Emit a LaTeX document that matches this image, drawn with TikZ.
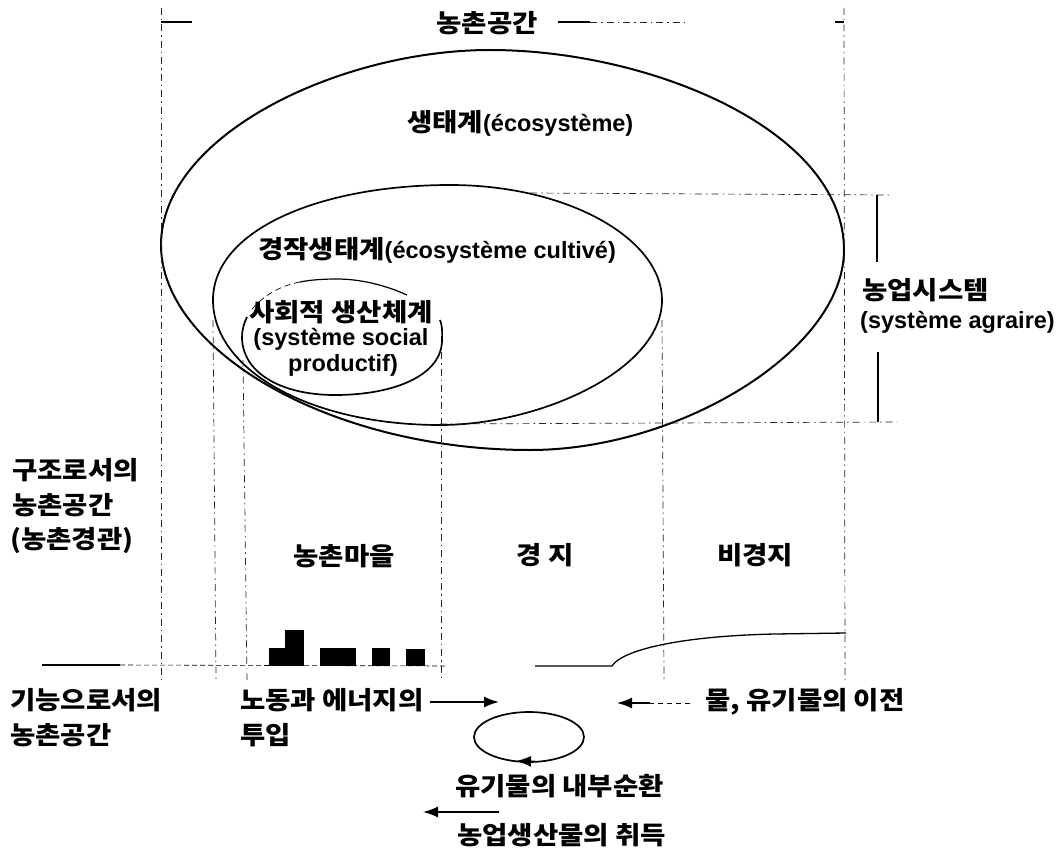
\documentclass[tikz,border=0pt]{standalone}
\usepackage{fontspec}
\setmainfont{Liberation Sans}
\newfontfamily\kofont[Scale=1.064,FakeStretch=1.1]{Noto Sans CJK KR}
\newcommand{\ko}[1]{{\kofont\bfseries #1}}
\usetikzlibrary{arrows.meta}
\tikzset{
  lab/.style={anchor=west,inner sep=0pt,font=\bfseries\fontsize{23.5}{26}\selectfont,text=black},
  labc/.style={lab,anchor=center},
  curve/.style={line width=1.7pt,black},
  guide/.style={line width=0.7pt,black!85,dash pattern=on 7pt off 4pt on 1.5pt off 4pt},
  dimline/.style={line width=1.3pt,black},
  arrowline/.style={line width=1.5pt,black,-{Latex[length=15pt,width=11pt]}},
  house/.style={fill=black,draw=none}
}
\begin{document}
\begin{tikzpicture}[x=1pt,y=-1pt]
\useasboundingbox (0,0) rectangle (1063,848);
\fill[white] (0,0) rectangle (1063,848);

% curves
\draw[curve,line width=2pt] (490,50) .. controls (650,50) and (844,130) .. (844,250)
  .. controls (844,350) and (680,450) .. (530,450)
  .. controls (330,450) and (161,350) .. (161,245)
  .. controls (161,135) and (340,50) .. (490,50) -- cycle;
\draw[curve] (450,185) .. controls (570,185) and (662,240) .. (662,300)
  .. controls (662,370) and (540,425) .. (440,425)
  .. controls (310,425) and (213,370) .. (213,300)
  .. controls (213,230) and (320,185) .. (450,185) -- cycle;
\draw[curve] (440,320) .. controls (443,328) and (442,334) .. (442,340)
  .. controls (442,375) and (395,395) .. (335,395)
  .. controls (280,395) and (242,372) .. (242,337)
  .. controls (242,330) and (244,323) .. (247,317);
\draw[curve,line width=1.2pt] (407,295) .. controls (385,285) and (360,279) .. (337,279)
  .. controls (322,279) and (310,280) .. (300,282);
\draw[line width=.7pt,dash pattern=on 6pt off 4pt] (300,282) .. controls (278,286) and (260,298) .. (250,312);

% guides
\coordinate (vaT) at (161,8);   \coordinate (vaB) at (161,680);
\coordinate (vbT) at (844,8);   \coordinate (vbB) at (845,680);
\coordinate (vcT) at (213,320); \coordinate (vcB) at (216,680);
\coordinate (vdT) at (243,360); \coordinate (vdB) at (247,680);
\coordinate (veT) at (441,352); \coordinate (veB) at (441,680);
\coordinate (vfT) at (662,320); \coordinate (vfB) at (664,680);
\coordinate (haL) at (530,193); \coordinate (haR) at (890,195);
\coordinate (hbL) at (440,424); \coordinate (hbR) at (897,422);
\draw[guide] (vaT) -- (vaB);
\draw[guide] (vbT) -- (vbB);
\draw[guide] (vcT) -- (vcB);
\draw[guide] (vdT) -- (vdB);
\draw[guide] (veT) -- (veB);
\draw[guide] (vfT) -- (vfB);
\draw[guide] (haL) -- (haR);
\draw[guide] (hbL) -- (hbR);

% top dimension line
\coordinate (tl) at (161,22); \coordinate (tl2) at (192,22);
\coordinate (tm) at (558,22); \coordinate (tm2) at (590,22); \coordinate (tm3) at (685,22);
\coordinate (tr) at (835,22); \coordinate (tr2) at (844,22);
\draw[dimline] (tl) -- (tl2);
\draw[dimline] (tm) -- (tm2);
\draw[guide,line width=.5pt] (tm2) -- (tm3);
\draw[dimline] (tr) -- (tr2);

% bracket
\coordinate (bra) at (877,195); \coordinate (brb) at (877,262);
\coordinate (brc) at (878,352); \coordinate (brd) at (878,422);
\draw[dimline] (bra) -- (brb);
\draw[dimline] (brc) -- (brd);

% ground line
\coordinate (g0) at (42,665); \coordinate (g1) at (120,665); \coordinate (g2) at (445,666);
\coordinate (g3) at (535,666); \coordinate (g4) at (612,666);
\draw[dimline] (g0) -- (g1);
\draw[line width=.6pt,dash pattern=on 5pt off 3pt] (g1) -- (g2);
\draw[dimline] (g3) -- (g4) .. controls (622,650) and (680,636) .. (775,634) -- (846,633);

% houses
\fill[house] (269,648) rectangle (287,666);
\fill[house] (285,630) rectangle (304,666);
\fill[house] (320,648) rectangle (356,666);
\fill[house] (372,648) rectangle (390,666);
\fill[house] (406,649) rectangle (425,666);

% arrows
\coordinate (a1s) at (430,702); \coordinate (a1e) at (499,702);
\coordinate (a2s) at (690,703); \coordinate (a2m) at (650,703); \coordinate (a2e) at (617,703);
\coordinate (a3s) at (499,812); \coordinate (a3e) at (423,812);
\draw[arrowline] (a1s) -- (a1e);
\draw[line width=.7pt,dash pattern=on 5pt off 4pt] (a2s) -- (a2m);
\draw[arrowline] (a2m) -- (a2e);
\draw[arrowline] (a3s) -- (a3e);

% cycle
\draw[curve] (529,737) ellipse [x radius=55,y radius=25];
\coordinate (cy1) at (535,761.5); \coordinate (cy2) at (516,761);
\draw[arrowline] (cy1) -- (cy2);

% labels
\node[labc] (t0) at (487,23) {\ko{농촌공간}};
\node[lab] (t1) at (407,123) {\ko{생태계}(écosystème)};
\node[lab] (t2) at (258,250) {\ko{경작생태계}(écosystème cultivé)};
\node[labc] (t3) at (341,312) {\ko{사회적 생산체계}};
\node[labc] (t4) at (341,339) {(système social};
\node[labc] (t5) at (343,365) {productif)};
\node[lab] (t6) at (862,290) {\ko{농업시스템}};
\node[lab] (t7) at (860,322) {(système agraire)};
\node[lab] (t8) at (12,470) {\ko{구조로서의}};
\node[lab] (t9) at (12,505) {\ko{농촌공간}};
\node[lab] (t10) at (10,541) {\ko{(농촌경관)}};
\node[labc] (t11) at (344,556) {\ko{농촌마을}};
\node[labc] (t12) at (545,555) {\ko{경 지}};
\node[labc] (t13) at (755,555) {\ko{비경지}};
\node[lab] (t14) at (10,700) {\ko{기능으로서의}};
\node[lab] (t15) at (10,735) {\ko{농촌공간}};
\node[lab] (t16) at (240,700) {\ko{노동과 에너지의}};
\node[lab] (t17) at (240,735) {\ko{투입}};
\node[lab] (t18) at (705,702) {\ko{물, 유기물의 이전}};
\node[lab] (t19) at (455,786) {\ko{유기물의 내부순환}};
\node[lab] (t20) at (457,835) {\ko{농업생산물의 취득}};
\end{tikzpicture}
\end{document}
